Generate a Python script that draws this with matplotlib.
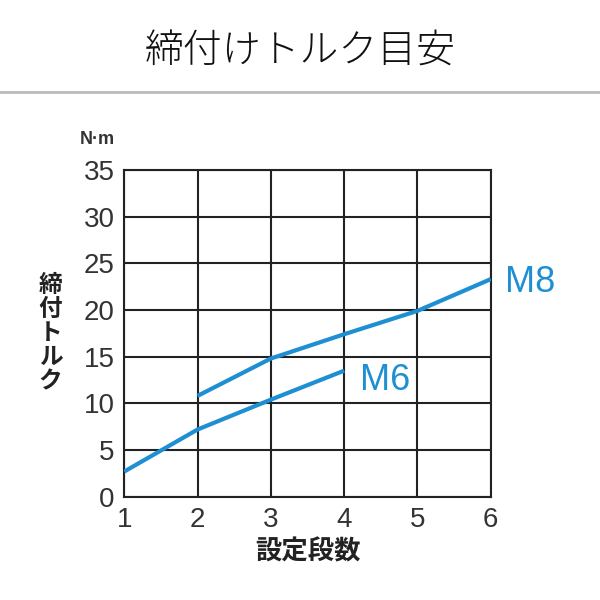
import matplotlib.pyplot as plt
import matplotlib.lines as mlines

plt.rcParams['font.family'] = ['Liberation Sans', 'Noto Sans CJK JP', 'DejaVu Sans']

# data
steps_m6 = [1, 2, 3, 4]
torque_m6 = [2.7, 7.2, 10.4, 13.5]
steps_m8 = [2, 3, 4, 5, 6]
torque_m8 = [10.8, 14.8, 17.4, 19.9, 23.3]
x_ticks = [1, 2, 3, 4, 5, 6]
y_ticks = [0, 5, 10, 15, 20, 25, 30, 35]

blue = '#1e8fd2'
grey_txt = '#333333'

fig = plt.figure(figsize=(6, 6), dpi=100)
ax = fig.add_axes([0.207, 0.172, 0.611, 0.545])

ax.plot(steps_m6, torque_m6, color=blue, lw=3, solid_capstyle='butt', zorder=3)
ax.plot(steps_m8, torque_m8, color=blue, lw=3, solid_capstyle='butt', zorder=3)

ax.set_xlim(1, 6)
ax.set_ylim(0, 35)
ax.set_xticks(x_ticks)
ax.set_yticks(y_ticks)
ax.grid(True, color='#222222', lw=1.5)
for s in ax.spines.values():
    s.set_color('#222222')
    s.set_linewidth(1.5)
ax.tick_params(length=0, labelsize=20, labelcolor=grey_txt, pad=7)

ax.text(steps_m8[-1] + 0.2, torque_m8[-1] - 0.4, 'M8', color=blue, fontsize=26,
        va='center', ha='left', clip_on=False)
ax.text(steps_m6[-1] + 0.22, torque_m6[-1] - 1.0, 'M6', color=blue, fontsize=26,
        va='center', ha='left', clip_on=False)

fig.text(0.5, 0.913, '締付けトルク目安', ha='center', va='center', fontsize=28,
         family=['Noto Sans CJK JP'], fontweight='light', color='#111111')
fig.add_artist(mlines.Line2D([0, 1], [0.846, 0.846], color='#bbbbbb', lw=2,
                             transform=fig.transFigure))
fig.text(0.163, 0.768, 'N·m', ha='center', va='center', fontsize=13,
         fontweight='bold', color=grey_txt)
fig.text(0.084, 0.445, '締\n付\nト\nル\nク', ha='center', va='center', fontsize=17,
         fontweight='bold', linespacing=1.0, family=['Noto Sans CJK JP'],
         color='#222222')
fig.text(0.513, 0.08, '設定段数', ha='center', va='center', fontsize=19,
         fontweight='bold', family=['Noto Sans CJK JP'], color='#222222')

fig.savefig('out.png', dpi=100)
